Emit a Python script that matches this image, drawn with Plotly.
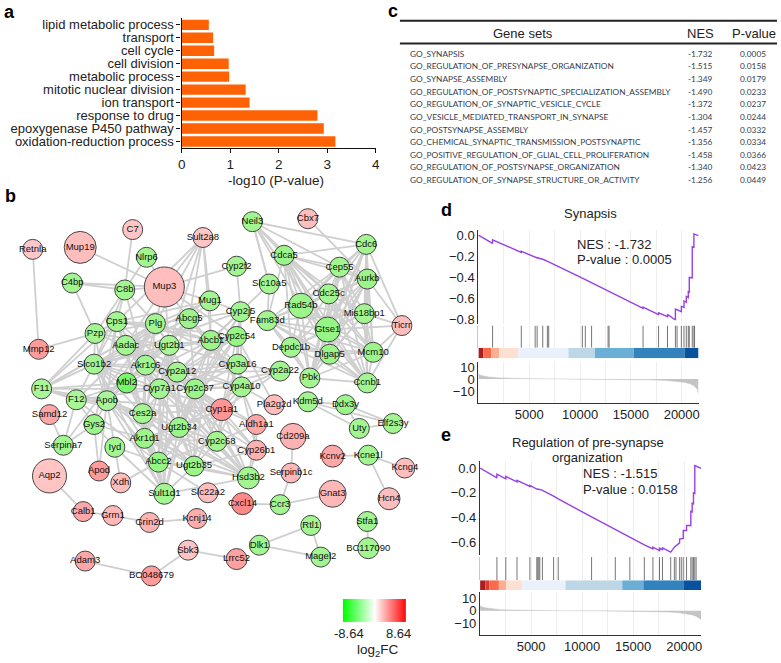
import numpy as np
import plotly.graph_objects as go

W, H = 781, 663
FONT = "Liberation Sans"

# ---------- panel a ----------
go_terms = ["lipid metabolic process", "transport", "cell cycle", "cell division", "metabolic process",
            "mitotic nuclear division", "ion transport", "response to drug", "epoxygenase P450 pathway",
            "oxidation-reduction process"]
go_values = [0.56, 0.65, 0.67, 0.97, 0.98, 1.32, 1.40, 2.80, 2.93, 3.17]

# ---------- panel c ----------
gene_sets = ["GO_SYNAPSIS", "GO_REGULATION_OF_PRESYNAPSE_ORGANIZATION", "GO_SYNAPSE_ASSEMBLY",
             "GO_REGULATION_OF_POSTSYNAPTIC_SPECIALIZATION_ASSEMBLY", "GO_REGULATION_OF_SYNAPTIC_VESICLE_CYCLE",
             "GO_VESICLE_MEDIATED_TRANSPORT_IN_SYNAPSE", "GO_POSTSYNAPSE_ASSEMBLY",
             "GO_CHEMICAL_SYNAPTIC_TRANSMISSION_POSTSYNAPTIC", "GO_POSITIVE_REGULATION_OF_GLIAL_CELL_PROLIFERATION",
             "GO_REGULATION_OF_POSTSYNAPSE_ORGANIZATION", "GO_REGULATION_OF_SYNAPSE_STRUCTURE_OR_ACTIVITY"]
nes_values = ["-1.732", "-1.515", "-1.349", "-1.490", "-1.372", "-1.304", "-1.457", "-1.356", "-1.458", "-1.340", "-1.256"]
p_values = ["0.0005", "0.0158", "0.0179", "0.0233", "0.0237", "0.0244", "0.0332", "0.0334", "0.0366", "0.0423", "0.0449"]

# ---------- panel b ----------
node_names = ["Retnla", "Mup19", "C7", "Sult2a8", "Nlrp6", "C4bp", "C8b", "Mup3", "Mug1", "Cps1", "Plg", "Abcg5", "Pzp",
              "Abcb1", "Aadac", "Ugt2b1", "Mmp12", "Slco1b2", "Akr1c6", "Cyp2a12", "Mbl2", "Cyp7a1", "Cyp2c37", "F11",
              "F12", "Apob", "Samd12", "Ces2a", "Cyp1a1", "Gys2", "Neil3", "Cbx7", "Cdc6", "Cdca5", "Cep55", "Cyp2f2",
              "Aurkb", "Slc10a5", "Cdc25c", "Rad54b", "Cyp2j5", "Mis18bp1", "Fam83d", "Ticrr", "Gtse1", "Cyp2c54",
              "Depdc1b", "Mcm10", "Dlgap5", "Cyp3a16", "Cyp2a22", "Pbk", "Ccnb1", "Cyp4a10", "Pla2g2d", "Kdm5d", "Ddx3y",
              "Aldh1a1", "Elf2s3y", "Uty", "Cd209a", "Cyp26b1", "Kcnv2", "Kcne1l", "Kcng4", "Hsd3b2", "Serpinb1c",
              "Gnat3", "Hcn4", "Cxcl14", "Ccr3", "Stfa1", "Rtl1", "Dlk1", "BC117090", "Magel2", "Lrrc52", "Cyp2c68",
              "Serpina7", "Iyd", "Akr1d1", "Ugt2b34", "Aqp2", "Apod", "Abcc2", "Ugt2b35", "Xdh", "Sult1d1", "Slc22a2",
              "Calb1", "Grm1", "Grin2d", "Kcnj14", "Sbk3", "Adam3", "BC048679"]
node_x = [29, 77, 130, 201, 144, 69, 122, 162, 208, 114, 153, 187, 92, 209, 123, 167, 35, 91, 143, 175, 124, 157, 193, 38,
          73, 104, 46, 140, 220, 91, 251, 307, 366, 283, 339, 235, 367, 268, 328, 300, 239, 364, 266, 402, 327, 235,
          290, 373, 329, 236, 279, 309, 367, 240, 273, 307, 345, 255, 393, 359, 292, 255, 332, 368, 405, 247, 290,
          332, 389, 241, 279, 367, 310, 258, 368, 320, 235, 215, 60, 112, 142, 177, 46, 96, 156, 192, 118, 162, 206,
          80, 110, 147, 195, 186, 82, 149]
node_y = [249, 247, 229, 237, 257, 283, 290, 287, 301, 322, 324, 319, 334, 341, 346, 346, 350, 365, 366, 373, 384, 390,
          390, 390, 401, 402, 416, 415, 411, 426, 221, 218, 244, 255, 267, 266, 279, 284, 294, 306, 312, 314, 321, 326,
          330, 337, 348, 353, 355, 365, 372, 379, 384, 388, 406, 403, 406, 426, 425, 430, 438, 452, 458, 457, 470, 480,
          475, 496, 501, 506, 507, 524, 528, 548, 551, 560, 562, 443, 447, 449, 440, 429, 478, 473, 464, 468, 485, 496,
          495, 514, 518, 525, 521, 553, 564, 579]
node_size = [20, 32, 20, 20, 20, 20, 20, 40, 20, 20, 20, 20, 20, 20, 20, 20, 20, 20, 20, 20, 20, 20, 20, 20,
             20, 20, 20, 20, 22, 20, 20, 20, 20, 20, 20, 20, 20, 20, 20, 25, 20, 20, 20, 20, 25, 20,
             20, 20, 20, 20, 20, 20, 20, 20, 20, 20, 20, 20, 20, 20, 26, 20, 22, 20, 20, 22, 20,
             27, 22, 22, 20, 20, 20, 20, 21, 20, 21, 20, 20, 20, 20, 20, 34, 20, 20, 20, 20, 21, 20,
             20, 20, 20, 20, 20, 20, 20]
node_fc = [1.9, 2.2, 2.0, 2.0, -3.2, -3.2, -3.2, 2.2, -3.2, -3.2, -3.2, -3.4, -3.2, -3.4, -3.2, -3.0, 3.4, -3.2, -3.2, -3.2,
           -4.6, -3.2, -3.4, -3.0, -3.0, -3.0, 3.0, -3.2, 3.6, -3.4, -3.2, 2.2, -3.2, -3.4, -3.2, -3.2, -3.4, -3.2, -3.2,
           -3.4, -3.2, -3.2, -3.2, 2.2, -3.6, -3.6, -3.2, -3.4, -3.4, -3.2, -3.2, -3.2, -3.2, -3.2, 2.2, -3.2, -3.4, 3.0,
           -3.2, -3.2, 2.6, 2.6, 3.0, -3.2, 2.2, -3.2, 2.4, 2.4, 2.2, 4.0, -3.2, -3.2, -3.2, -3.2, -3.2, -3.2, 3.2, -3.2,
           -3.2, -3.2, -3.4, -3.4, 2.0, 3.4, -3.6, -3.4, 2.2, -3.2, 2.2, 3.0, 2.4, 2.6, 2.8, 2.0, 3.0, 3.4]

adjacency = {
    "Retnla": "Mmp12", "Mmp12": "Pzp", "C4bp": "C8b Pzp Mup3", "C7": "C8b", "Nlrp6": "C8b Mup3", "Mup19": "Mup3",
    "C8b": "Mup3 Pzp Slco1b2 Plg Akr1c6 Cps1",
    "Mup3": "Sult2a8 Cyp2f2 Mug1 Plg Abcg5 Aadac Cyp2c54 Ugt2b1",
    "Sult2a8": "Mug1 Abcg5 Plg Abcb1 Cps1 Ugt2b1",
    "Mug1": "Plg Cps1 Apob Cyp2j5 Abcb1 Aadac",
    "Pzp": "F11 Plg Cps1 Apob Slco1b2 Ugt2b1 Aadac",
    "Cps1": "Plg Aadac Slco1b2 Akr1c6 F11 Apob Cyp7a1 Cyp2a12 Abcb1 Cyp2c54 Gys2 Ces2a",
    "Plg": "Apob F11 F12 Aadac Akr1c6 Ugt2b1 Mbl2 Cyp2c37 Abcg5 Abcb1 Serpina7 Cyp3a16 Akr1d1",
    "Abcg5": "Abcb1 Cyp2j5 Cyp7a1 Apob Cyp2c37 Ugt2b1 Akr1c6 Slco1b2 Cyp4a10",
    "Abcb1": "Cyp2j5 Cyp2c54 Cyp3a16 Cyp4a10 Cyp2c37 Cyp7a1 Slco1b2 Abcc2 Ugt2b1 Cyp2a12 Ugt2b35 Mbl2",
    "Aadac": "Ugt2b1 Ces2a Cyp2a12 Cyp7a1 Akr1c6 Slco1b2 Cyp2c37 Ugt2b34 Akr1d1 Cyp4a10",
    "Ugt2b1": "Cyp2c37 Ugt2b34 Ugt2b35 Cyp2c54 Slco1b2 Akr1c6 Cyp7a1 Sult1d1 Abcc2 Cyp3a16 Apob Ces2a",
    "Slco1b2": "F11 F12 Apob Akr1c6 Cyp7a1 Abcc2 Cyp2c37 Ugt2b34 Ugt2b35 Sult1d1 Cyp2a12 Mbl2 Cyp2j5",
    "Akr1c6": "Cyp2a12 Cyp7a1 Cyp2c37 Akr1d1 Ces2a Ugt2b34 Hsd3b2 Cyp1a1 Cyp3a16 Cyp2c68 Apob",
    "Cyp2a12": "Cyp7a1 Cyp2c37 Cyp2c54 Cyp2j5 Cyp3a16 Cyp4a10 Cyp1a1 Cyp2c68 Ugt2b34 Cyp2a22 Ces2a Hsd3b2 Akr1d1",
    "Mbl2": "F11 F12 Apob Cyp7a1 Ces2a",
    "Cyp7a1": "Cyp2c37 Cyp3a16 Akr1d1 Hsd3b2 Abcc2 Cyp2c54 Cyp2j5 Ugt2b35 Cyp4a10 Cyp1a1 F12 Cyp26b1 Sult1d1",
    "Cyp2c37": "Cyp2c54 Cyp2j5 Cyp3a16 Cyp4a10 Cyp1a1 Cyp2c68 Ugt2b34 Ugt2b35 Hsd3b2 Cyp2a22 Aldh1a1 Cyp26b1 Abcc2 Sult1d1",
    "F11": "F12 Apob Ces2a Cyp7a1 Plg",
    "F12": "Apob Serpina7 Ces2a Gys2 Abcc2",
    "Apob": "Ces2a Gys2 Abcc2 Cyp1a1 Ugt2b34 Sult1d1 Apod Iyd Ugt2b35 Hsd3b2 Cyp2c68",
    "Samd12": "Serpina7", "Gys2": "Serpina7 Apod Iyd Akr1d1",
    "Ces2a": "Akr1d1 Ugt2b34 Abcc2 Cyp2c68 Hsd3b2 Cyp1a1 Ugt2b35 Sult1d1",
    "Cyp1a1": "Cyp4a10 Cyp3a16 Cyp2c54 Aldh1a1 Cyp26b1 Cyp2c68 Hsd3b2 Ugt2b34 Ugt2b35 Abcc2 Akr1d1 Cyp2a22",
    "Iyd": "Xdh Sult1d1 Abcc2", "Xdh": "Abcc2", "Akr1d1": "Abcc2 Ugt2b34 Hsd3b2 Ugt2b35 Sult1d1 Cyp2c68",
    "Ugt2b34": "Abcc2 Ugt2b35 Sult1d1 Cyp2c68 Hsd3b2", "Abcc2": "Ugt2b35 Sult1d1 Hsd3b2 Slc22a2 Cyp2c68",
    "Ugt2b35": "Sult1d1 Cyp2c68 Hsd3b2 Cyp26b1", "Cyp2c68": "Hsd3b2 Cyp26b1 Aldh1a1 Cyp4a10 Cyp3a16",
    "Sult1d1": "Hsd3b2", "Aldh1a1": "Cyp26b1 Hsd3b2 Cyp4a10", "Cyp26b1": "Hsd3b2 Cyp4a10",
    "Cyp2f2": "Cyp2j5", "Slc10a5": "Cyp2j5 Fam83d Neil3", "Cyp2j5": "Cyp2c54 Cyp3a16 Cyp4a10 Ugt2b34",
    "Cyp2c54": "Cyp3a16 Cyp4a10 Pla2g2d Ugt2b34", "Cyp3a16": "Cyp4a10 Cyp2a22", "Cyp2a22": "Cyp4a10",
    "Cyp4a10": "Pla2g2d Ugt2b34",
    "Neil3": "Cdca5 Cep55 Cdc6 Rad54b Gtse1 Slc10a5 Cdc25c",
    "Cbx7": "Aurkb",
    "Cdc6": "Cdca5 Cep55 Aurkb Cdc25c Rad54b Mis18bp1 Gtse1 Dlgap5 Ticrr Ccnb1 Pbk Mcm10",
    "Cdca5": "Cep55 Aurkb Cdc25c Rad54b Fam83d Gtse1 Depdc1b Dlgap5 Pbk Ccnb1 Mis18bp1 Mcm10",
    "Cep55": "Aurkb Cdc25c Rad54b Mis18bp1 Gtse1 Dlgap5 Ccnb1 Mcm10 Pbk Fam83d",
    "Aurkb": "Cdc25c Rad54b Mis18bp1 Fam83d Gtse1 Depdc1b Mcm10 Dlgap5 Pbk Ccnb1 Ticrr",
    "Cdc25c": "Rad54b Mis18bp1 Fam83d Gtse1 Depdc1b Mcm10 Dlgap5 Pbk Ccnb1",
    "Rad54b": "Mis18bp1 Fam83d Gtse1 Depdc1b Mcm10 Dlgap5 Pbk Ccnb1",
    "Mis18bp1": "Fam83d Gtse1 Depdc1b Mcm10 Dlgap5 Pbk Ccnb1 Ticrr",
    "Fam83d": "Gtse1 Depdc1b Dlgap5 Mcm10 Ccnb1 Pbk",
    "Gtse1": "Depdc1b Mcm10 Dlgap5 Pbk Ccnb1 Ticrr",
    "Depdc1b": "Dlgap5 Mcm10 Pbk Ccnb1", "Mcm10": "Dlgap5 Pbk Ccnb1 Ticrr", "Dlgap5": "Pbk Ccnb1",
    "Pbk": "Ccnb1", "Ccnb1": "Ticrr",
    "Kdm5d": "Ddx3y Uty Elf2s3y", "Ddx3y": "Uty Elf2s3y", "Uty": "Elf2s3y",
    "Kcnv2": "Kcne1l", "Kcne1l": "Kcng4 Hcn4", "Cd209a": "Serpinb1c", "Serpinb1c": "Ccr3", "Ccr3": "Gnat3 Cxcl14",
    "Stfa1": "BC117090", "Rtl1": "Dlk1 Magel2", "Dlk1": "Magel2", "Aqp2": "Calb1", "Calb1": "Grm1", "Grm1": "Grin2d",
    "Grin2d": "Kcnj14", "Adam3": "BC048679", "BC048679": "Sbk3", "Sbk3": "Lrrc52",
}

colorbar_limits = [-8.64, 8.64]
fc_scale = [[0, "#00ff00"], [0.315, "#a2f590"], [0.5, "#ffffff"], [1, "#ff0000"]]

# ---------- panel d ----------
d_curve_x = [0, 1396, 1396, 4220, 4220, 5583, 5583, 5778, 5778, 6330, 6914, 10225, 10517, 11134, 12757, 12854, 16197,
             16197, 17723, 17723, 18600, 18600, 19379, 19379, 19541, 19963, 19963, 20222, 20222, 20450, 20450, 20645,
             20645, 20742, 20742, 21034, 21034, 21196, 21196, 21650]
d_curve_y = [0, -0.078, -0.044, -0.163, -0.153, -0.212, -0.207, -0.215, -0.213, -0.228, -0.252, -0.407, -0.421, -0.450,
             -0.527, -0.530, -0.692, -0.682, -0.752, -0.735, -0.772, -0.750, -0.803, -0.700, -0.705, -0.725, -0.675,
             -0.685, -0.625, -0.635, -0.580, -0.590, -0.535, -0.540, -0.400, -0.405, -0.110, -0.115, 0.012, -0.003]
d_hits = [1396, 4220, 5583, 5778, 6330, 6784, 6914, 10225, 10517, 11134, 12757, 12854, 16197, 17723, 18600, 19379, 19541,
          19963, 20222, 20450, 20645, 20742, 21034, 21196, 21261]
d_band_edges = [0, 488, 1269, 2050, 3904, 8849, 11452, 15291, 20269, 21650]
d_band_colors = ["#a81e22", "#fb6a4a", "#fcae91", "#fee0d2", "#eaf1fc", "#bdd7e7", "#6baed6", "#3182bd", "#08519c"]
d_rank_x = [0, 150, 500, 1000, 2000, 3000, 5000, 8000, 12000, 15000, 17000, 18500, 19500, 20200, 20800, 21200, 21500, 21650]
d_rank_y = [4.6, 3.4, 2.6, 1.8, 1.0, 0.6, 0.3, 0.1, -0.1, -0.3, -0.6, -1.1, -1.7, -2.6, -3.8, -5.5, -8.0, -12.0]

# ---------- panel e ----------
e_curve_x = [0, 1648, 1648, 2520, 2520, 3619, 3619, 4879, 4879, 5557, 5848, 6107, 7205, 7657, 10921, 13247, 14669, 16091,
             16931, 16931, 17577, 17577, 17868, 17868, 18675, 19031, 19031, 19547, 19547, 19903, 19903, 20226, 20226,
             20646, 20646, 20775, 20775, 20905, 20905, 21034, 21034, 21163, 21650]
e_curve_y = [0, -0.080, -0.050, -0.088, -0.067, -0.112, -0.099, -0.149, -0.141, -0.170, -0.173, -0.181, -0.227, -0.250,
             -0.395, -0.499, -0.563, -0.621, -0.653, -0.640, -0.667, -0.648, -0.660, -0.645, -0.680, -0.640, -0.640,
             -0.605, -0.575, -0.570, -0.505, -0.505, -0.465, -0.465, -0.350, -0.355, -0.285, -0.290, -0.200, -0.205,
             0.020, 0.015, -0.003]
e_hits = [1648, 2520, 3619, 4879, 5557, 5654, 5751, 5848, 6107, 7205, 7657, 10921, 13247, 14669, 16091, 16931, 17577,
          17868, 18675, 19031, 19192, 19547, 19709, 19903, 20226, 20646, 20775, 20905, 21034, 21163]
e_band_edges = [0, 517, 905, 1842, 2553, 4104, 8369, 13927, 15995, 19970, 21650]
e_band_colors = ["#a81e22", "#de3b2f", "#fb6a4a", "#fcae91", "#fee0d2", "#eaf1fc", "#bdd7e7", "#6baed6", "#3182bd", "#08519c"]
e_rank_x = d_rank_x
e_rank_y = [4.2, 3.2, 2.4, 1.7, 0.9, 0.6, 0.3, 0.1, -0.1, -0.3, -0.6, -1.0, -1.6, -2.4, -3.4, -4.6, -6.0, -7.0]

x_ticks = [5000, 10000, 15000, 20000]
d_y_ticks = [0, -0.2, -0.4, -0.6, -0.8]
e_y_ticks = [0, -0.2, -0.4, -0.6]
rank_ticks = [10, 0, -10]


def dx(l, r):
    return [l / W, r / W]


def dy(t, b):
    return [1 - b / H, 1 - t / H]


fig = go.Figure()
annotations = []
shapes = []


def note(x, y, text, size=13, color="#222222", family=FONT, anchor="center", bold=False):
    annotations.append(dict(x=x / W, y=1 - y / H, xref="paper", yref="paper", text=f"<b>{text}</b>" if bold else text,
                            showarrow=False, xanchor=anchor, yanchor="middle",
                            font=dict(size=size, color=color, family=family)))


# panel a
fig.add_trace(go.Bar(x=go_values, y=go_terms, orientation="h", marker=dict(color="#ff6205", line=dict(width=0)),
                     width=0.8, xaxis="x", yaxis="y"))
layout = dict(
    xaxis=dict(domain=dx(179.5, 375.5), range=[0, 4], tickvals=[0, 1, 2, 3, 4], showline=True, linecolor="#111111",
               linewidth=1.4, ticks="outside", ticklen=4, tickcolor="#111111", showgrid=False, zeroline=False,
               tickfont=dict(size=13.5, color="#222222", family=FONT), anchor="y"),
    yaxis=dict(domain=dy(15.5, 146.5), range=[9.5, -0.5], type="category", categoryorder="array",
               categoryarray=go_terms, tickmode="array", tickvals=go_terms, ticktext=go_terms, showline=True,
               linecolor="#111111", linewidth=1.4, ticks="outside", ticklen=4,
               tickcolor="#111111", showgrid=False, tickfont=dict(size=13, color="#222222", family=FONT), anchor="x"),
)
note(275, 179, "-log10 (P-value)", 13.5)

# panel b: network
pos = {n: (a, b) for n, a, b in zip(node_names, node_x, node_y)}
edge_x, edge_y = [], []
for a, nbrs in adjacency.items():
    for b in nbrs.split():
        edge_x += [pos[a][0], pos[b][0], None]
        edge_y += [pos[a][1], pos[b][1], None]
fig.add_trace(go.Scatter(x=edge_x, y=edge_y, mode="lines", line=dict(color="#cfcfcf", width=1.8), hoverinfo="skip",
                         xaxis="x2", yaxis="y2"))
fig.add_trace(go.Scatter(x=node_x, y=node_y, mode="markers+text", text=node_names, textposition="middle center",
                         textfont=dict(size=9.5, color="#111111", family=FONT),
                         marker=dict(size=node_size, color=node_fc, colorscale=fc_scale, cmin=colorbar_limits[0],
                                     cmax=colorbar_limits[1], line=dict(color="#444444", width=1), opacity=1),
                         xaxis="x2", yaxis="y2"))
hidden = dict(visible=False, showgrid=False, zeroline=False, fixedrange=True)
layout["xaxis2"] = dict(domain=[0, 1], range=[0, W], anchor="y2", **hidden)
layout["yaxis2"] = dict(domain=[0, 1], range=[H, 0], anchor="x2", **hidden)

# colour bar
grad = np.linspace(colorbar_limits[0], colorbar_limits[1], 128)
fig.add_trace(go.Heatmap(z=[grad], x=grad, y=[0], colorscale=[[0, "#00ff00"], [0.5, "#ffffff"], [1, "#ff0000"]],
                         zmin=colorbar_limits[0], zmax=colorbar_limits[1],
                         showscale=False, hoverinfo="skip", xaxis="x3", yaxis="y3"))
layout["xaxis3"] = dict(domain=dx(342.3, 406), range=colorbar_limits, anchor="y3", **hidden)
layout["yaxis3"] = dict(domain=dy(602.3, 626), range=[-0.5, 0.5], anchor="x3", **hidden)
note(349, 637, str(colorbar_limits[0]), 13)
note(399, 637, str(colorbar_limits[1]), 13)
note(378, 654, "log<sub>2</sub>FC", 13.5)


def gsea(idx, left, right, top_dom, rug_dom, band_dom, bot_dom, cx, cy, hits, edges, cols, rx, ry, yticks, yrange, rrange):
    a, b, c, e = idx, idx + 1, idx + 2, idx + 3
    gridcol = "#eeeeee"
    ax_common = dict(domain=dx(left, right), range=[0, 21650], tickvals=x_ticks, tickformat="d", showgrid=True,
                     gridcolor=gridcol, gridwidth=1, zeroline=False,
                     minor=dict(tickvals=[2500, 7500, 12500, 17500], showgrid=True, gridcolor=gridcol, gridwidth=1))
    fig.add_trace(go.Scatter(x=cx, y=cy, mode="lines", line=dict(color="#9a3fe8", width=1.4), hoverinfo="skip",
                             xaxis=f"x{a}", yaxis=f"y{a}"))
    layout[f"xaxis{a}"] = dict(anchor=f"y{a}", showticklabels=False, **ax_common)
    layout[f"yaxis{a}"] = dict(domain=dy(*top_dom), range=yrange, tickvals=yticks, tickformat=".1f", showgrid=False,
                               zeroline=False, showline=True, linecolor="#333333", linewidth=1.2,
                               tickfont=dict(size=13, color="#222222", family=FONT), anchor=f"x{a}")
    # rug
    rug_x, rug_y = [], []
    for h in hits:
        rug_x += [h, h, None]
        rug_y += [0, 1, None]
    fig.add_trace(go.Scatter(x=rug_x, y=rug_y, mode="lines", line=dict(color="#666666", width=0.9), hoverinfo="skip",
                             xaxis=f"x{b}", yaxis=f"y{b}"))
    layout[f"xaxis{b}"] = dict(anchor=f"y{b}", showticklabels=False, **ax_common)
    layout[f"yaxis{b}"] = dict(domain=dy(*rug_dom), range=[0, 1], showticklabels=False, ticks="", showgrid=False,
                               zeroline=False, showline=True, linecolor="#c8c8c8", linewidth=1, anchor=f"x{b}")
    # band
    centers = [(p + q) / 2 for p, q in zip(edges[:-1], edges[1:])]
    widths = [q - p for p, q in zip(edges[:-1], edges[1:])]
    fig.add_trace(go.Bar(x=centers, y=[1] * len(centers), width=widths, marker=dict(color=cols, line=dict(width=0)),
                         hoverinfo="skip", xaxis=f"x{c}", yaxis=f"y{c}"))
    layout[f"xaxis{c}"] = dict(domain=dx(left, right), range=[0, 21650], visible=False, anchor=f"y{c}")
    layout[f"yaxis{c}"] = dict(domain=dy(*band_dom), range=[0, 1], visible=False, showgrid=False, zeroline=False,
                               anchor=f"x{c}")
    # ranks
    fig.add_trace(go.Scatter(x=rx, y=ry, mode="lines", fill="tozeroy", fillcolor="#c4c4c4", line=dict(color="#c4c4c4", width=0.5),
                             hoverinfo="skip", xaxis=f"x{e}", yaxis=f"y{e}"))
    layout[f"xaxis{e}"] = dict(anchor=f"y{e}", showline=True, linecolor="#333333", linewidth=1.2,
                               tickfont=dict(size=13, color="#222222", family=FONT), **ax_common)
    layout[f"yaxis{e}"] = dict(domain=dy(*bot_dom), range=rrange, tickvals=rank_ticks, showgrid=False, zeroline=False,
                               showline=True, linecolor="#333333", linewidth=1.2,
                               tickfont=dict(size=13, color="#222222", family=FONT), anchor=f"x{e}")


gsea(4, 479.3, 701.7, (229, 324), (326, 348.5), (348.5, 359), (363, 404), d_curve_x, d_curve_y, d_hits, d_band_edges,
     d_band_colors, d_rank_x, d_rank_y, d_y_ticks, [(234.7 - 324) / 106.67, (234.7 - 229) / 106.67], [-19.5, 14])
gsea(8, 481, 704.3, (463, 558), (560, 583.5), (583.5, 593.3), (595, 638.5), e_curve_x, e_curve_y, e_hits, e_band_edges,
     e_band_colors, e_rank_x, e_rank_y, e_y_ticks, [(470 - 558) / 125.0, (470 - 463) / 125.0], [-19.5, 15.5])

note(593, 213, "Synapsis", 13)
note(577, 244, "NES : -1.732", 13, anchor="left")
note(577, 259, "P-value : 0.0005", 13, anchor="left")
note(590, 444, "Regulation of pre-synapse", 13)
note(590, 459.5, "organization", 13)
note(583, 476, "NES : -1.515", 13, anchor="left")
note(583, 492, "P-value : 0.0158", 13, anchor="left")

# panel c: table
TABLE_FONT = "Lato"
shapes.append(dict(type="line", xref="paper", yref="paper", x0=400 / W, x1=1, y0=1 - 18 / H, y1=1 - 18 / H,
                   line=dict(color="#222222", width=2)))
shapes.append(dict(type="line", xref="paper", yref="paper", x0=400 / W, x1=1, y0=1 - 41 / H, y1=1 - 41 / H,
                   line=dict(color="#222222", width=2)))
note(524, 31, "Gene sets", 13)
note(704, 31, "NES", 13)
note(758, 31, "P-value", 13)
for i, (g, n, p) in enumerate(zip(gene_sets, nes_values, p_values)):
    y = 51.3 + i * 12.77
    note(408.5, y, g, 8.3, color="#33404d", family=TABLE_FONT, anchor="left")
    note(703, y, n, 8.3, color="#33404d", family=TABLE_FONT)
    note(757, y, p, 8.3, color="#33404d", family=TABLE_FONT)

# panel letters
note(6, 9, "a", 18, color="#000000", bold=True)
note(7, 195, "b", 18, color="#000000", bold=True)
note(393, 8, "c", 18, color="#000000", bold=True)
note(447, 209, "d", 18, color="#000000", bold=True)
note(447, 437, "e", 18, color="#000000", bold=True)

fig.update_layout(width=W, height=H, margin=dict(l=0, r=0, t=0, b=0), showlegend=False, paper_bgcolor="white",
                  plot_bgcolor="rgba(0,0,0,0)", annotations=annotations, shapes=shapes, barmode="overlay",
                  font=dict(family=FONT), **layout)
fig.write_html("out.html", config=dict(displayModeBar=False),
               post_script="document.body.style.margin='0';document.body.style.overflow='hidden';window.dispatchEvent(new Event('resize'));")
